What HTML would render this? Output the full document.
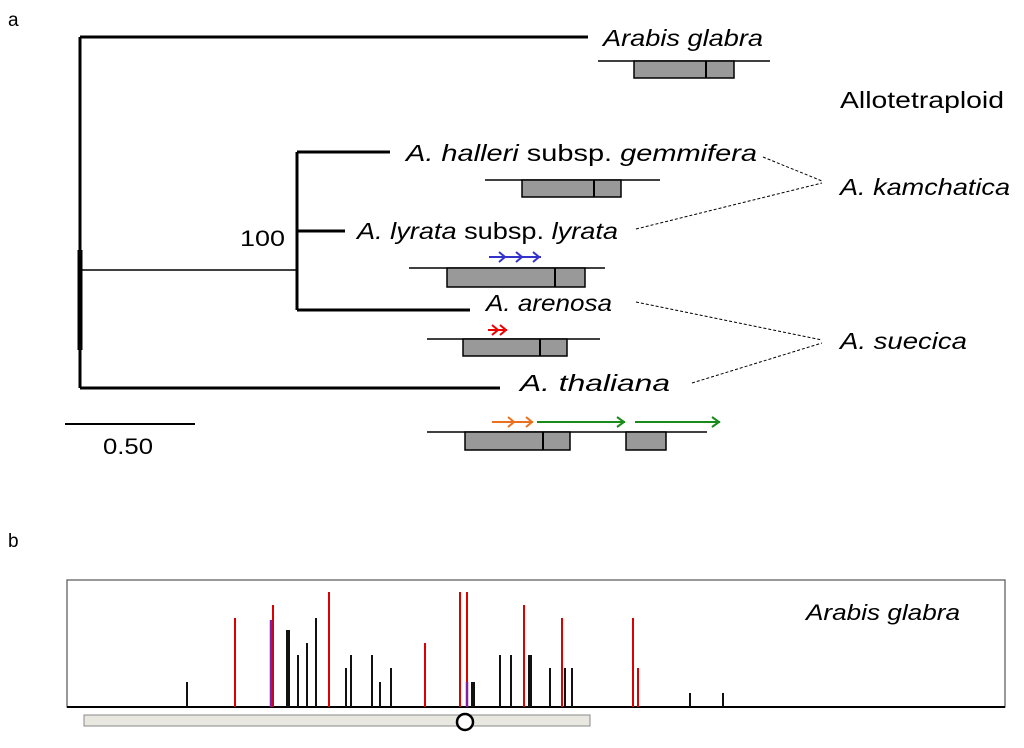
<!DOCTYPE html>
<html><head><style>body{margin:0;background:#fff}svg{display:block}</style></head><body>
<svg width="1024" height="748" xmlns="http://www.w3.org/2000/svg" font-family="Liberation Sans, sans-serif">
<text x="8" y="26" font-size="19">a</text>
<text x="8" y="547" font-size="19">b</text>
<g stroke="#000" stroke-width="3" fill="none">
<path d="M80 37V388"/><path d="M80 37H588"/><path d="M297 152V310"/>
<path d="M297 152H390"/><path d="M297 231H345"/><path d="M297 310H470"/><path d="M80 388H500"/>
</g>
<path d="M80 270H297" stroke="#000" stroke-width="1.5"/>
<path d="M80 250V350" stroke="#000" stroke-width="5"/>
<path d="M65 424H195" stroke="#000" stroke-width="2"/>
<text x="103" y="454" font-size="22" textLength="50" lengthAdjust="spacingAndGlyphs">0.50</text>
<text x="240" y="246" font-size="22" textLength="45" lengthAdjust="spacingAndGlyphs">100</text>
<g font-size="23" font-style="italic">
<text x="603" y="46" textLength="160" lengthAdjust="spacingAndGlyphs">Arabis glabra</text>
<text x="406" y="161" textLength="351" lengthAdjust="spacingAndGlyphs"><tspan>A. halleri</tspan><tspan font-style="normal"> subsp. </tspan><tspan>gemmifera</tspan></text>
<text x="357" y="239" textLength="261" lengthAdjust="spacingAndGlyphs"><tspan>A. lyrata</tspan><tspan font-style="normal"> subsp. </tspan><tspan>lyrata</tspan></text>
<text x="486" y="311" textLength="126" lengthAdjust="spacingAndGlyphs">A. arenosa</text>
<text x="520" y="391" textLength="150" lengthAdjust="spacingAndGlyphs">A. thaliana</text>
<text x="840" y="195" textLength="170" lengthAdjust="spacingAndGlyphs">A. kamchatica</text>
<text x="840" y="349" textLength="127" lengthAdjust="spacingAndGlyphs">A. suecica</text>
</g>
<text x="840" y="108" font-size="23" textLength="164" lengthAdjust="spacingAndGlyphs">Allotetraploid</text>
<g stroke="#000" stroke-width="1" stroke-dasharray="3,2">
<path d="M763 157L822 181M636 229L822 183M636 302L822 340M692 383L822 343"/>
</g>
<g stroke="#000" stroke-width="1.5" fill="#999">
<path d="M598 61H770M485 180H660M409 268H605M427 339H600M427 432H707" fill="none"/>
<rect x="634" y="61" width="100" height="17"/><path d="M706 61V78" stroke-width="2"/>
<rect x="522" y="180" width="99" height="17"/><path d="M594 180V197" stroke-width="2"/>
<rect x="447" y="268" width="138" height="19"/><path d="M555 268V287" stroke-width="2"/>
<rect x="463" y="339" width="104" height="17"/><path d="M540 339V356" stroke-width="2"/>
<rect x="465" y="432" width="105" height="18"/><path d="M543 432V450" stroke-width="2"/>
<rect x="626" y="432" width="40" height="18"/>
</g>
<g fill="none" stroke-width="2">
<path d="M489 257H541M499 252l6 5-6 5M516 252l6 5-6 5M533 252l6 5-6 5" stroke="#33c"/>
<path d="M488 330H507M492 325l6 5-6 5M500 325l6 5-6 5" stroke="#e00"/>
<path d="M492 422H533M508 417l6 5-6 5M526 417l6 5-6 5" stroke="#e87020"/>
<path d="M537 422H625M617 417l7 5-7 5M635 422H720M712 417l7 5-7 5" stroke="#1a8a1a"/>
</g>
<rect x="67" y="580" width="938" height="127" fill="none" stroke="#555" stroke-width="1.2"/>
<path d="M67 707H1005" stroke="#000" stroke-width="2"/>
<text x="806" y="620" font-size="22" font-style="italic" textLength="154" lengthAdjust="spacingAndGlyphs">Arabis glabra</text>
<g stroke="#d00" stroke-width="2">
<path d="M235 707V618M273 707V605M329 707V592M425 707V643M460 707V592M467 707V592M524 707V605M562 707V618M633 707V618M638 707V668"/>
</g>
<g stroke="#111" stroke-width="2">
<path d="M187 707V682M298 707V655M307 707V643M316 707V618M346 707V668M351 707V655M372 707V655M380 707V682M391 707V668M500 707V655M511 707V655M550 707V668M565 707V668M572 707V668M690 707V693M723 707V693"/>
<path d="M288 707V630M473 707V682M530 707V655" stroke-width="4"/>
</g>
<path d="M271 707V620M467 707V682" stroke="#8020a0" stroke-width="2.5"/>
<rect x="84" y="715" width="506" height="11" fill="#e8e8e0" stroke="#888"/>
<circle cx="465" cy="722" r="8" fill="#fff" stroke="#000" stroke-width="2.5"/>
</svg>
</body></html>
